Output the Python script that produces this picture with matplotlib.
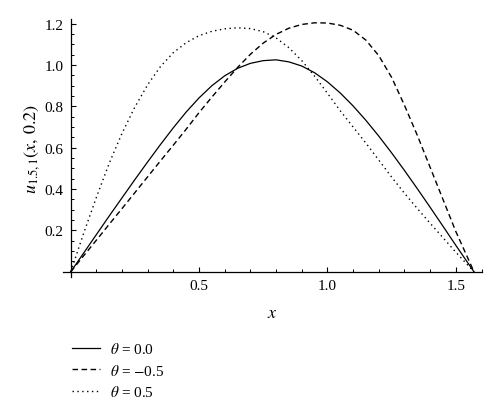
import numpy as np
import matplotlib.pyplot as plt
from matplotlib.ticker import MultipleLocator, FixedLocator

plt.rcParams['font.family'] = ['Liberation Serif', 'DejaVu Serif']
plt.rcParams['mathtext.fontset'] = 'stix'

# values (x runs from 0 to pi/2)
x = [0.0, 0.05, 0.1, 0.15, 0.2, 0.25, 0.3, 0.35, 0.4, 0.45, 0.5, 0.55, 0.6, 0.65,
     0.7, 0.75, 0.8, 0.85, 0.9, 0.95, 1.0, 1.05, 1.1, 1.15, 1.2, 1.25, 1.3, 1.35,
     1.4, 1.45, 1.5, np.pi / 2]
u_theta0 = [0.0, 0.09, 0.18, 0.27, 0.358, 0.446, 0.532, 0.616, 0.697, 0.773, 0.841,
            0.90, 0.948, 0.984, 1.008, 1.021, 1.025, 1.015, 0.995, 0.9625, 0.9185,
            0.8645, 0.802, 0.732, 0.656, 0.575, 0.49, 0.402, 0.312, 0.2205, 0.128, 0.0]
u_theta_m05 = [0.0, 0.077, 0.153, 0.23, 0.306, 0.383, 0.46, 0.537, 0.613, 0.69, 0.77,
               0.845, 0.918, 0.988, 1.052, 1.106, 1.148, 1.178, 1.196, 1.204, 1.203,
               1.192, 1.168, 1.12, 1.045, 0.94, 0.805, 0.66, 0.505, 0.35, 0.195, 0.0]
u_theta_p05 = [0.0, 0.185, 0.36, 0.525, 0.67, 0.797, 0.905, 0.993, 1.06, 1.108, 1.142,
               1.163, 1.175, 1.18, 1.176, 1.161, 1.131, 1.0835, 1.021, 0.946, 0.8635,
               0.7785, 0.70, 0.622, 0.54, 0.458, 0.38, 0.306, 0.235, 0.165, 0.095, 0.0]
labels = [r'$\theta$ = 0.0', r'$\theta$ = $-$0.5', r'$\theta$ = 0.5']

fig = plt.figure(figsize=(5, 4.14), dpi=100)
ax = fig.add_axes([0.126, 0.3285, 0.837, 0.623])

l1, = ax.plot(x, u_theta0, color='black', lw=0.9, linestyle='-')
l2, = ax.plot(x, u_theta_m05, color='black', lw=1.0, linestyle=(0, (4, 2.5)))
l3, = ax.plot(x, u_theta_p05, color='black', lw=1.0, linestyle=(0, (1, 2.5)))

ax.set_xlim(-0.03, 1.6)
ax.set_ylim(-0.025, 1.222)
ax.spines['left'].set_position(('data', 0))
ax.spines['bottom'].set_position(('data', 0))
ax.spines['top'].set_visible(False)
ax.spines['right'].set_visible(False)
for s in ['left', 'bottom']:
    ax.spines[s].set_linewidth(0.9)

ax.xaxis.set_major_locator(FixedLocator([0.5, 1.0, 1.5]))
ax.xaxis.set_minor_locator(MultipleLocator(0.1))
ax.yaxis.set_major_locator(FixedLocator([0.2, 0.4, 0.6, 0.8, 1.0, 1.2]))
ax.yaxis.set_minor_locator(MultipleLocator(0.05))
ax.xaxis.set_major_formatter(plt.FormatStrFormatter('%.1f'))
ax.yaxis.set_major_formatter(plt.FormatStrFormatter('%.1f'))
ax.tick_params(which='major', direction='in', length=3.5, width=0.8, labelsize=11, pad=5)
ax.tick_params(which='minor', direction='in', length=2, width=0.7)

ax.set_xlabel(r'$x$', fontsize=13, labelpad=9)
ax.set_ylabel(r'$u_{1.5,1}(x,\, 0.2)$', fontsize=13, labelpad=2)

fig.legend([l1, l2, l3], labels, loc='upper left', bbox_to_anchor=(0.144, 0.173),
           frameon=False, fontsize=11, handlelength=1.85, handletextpad=0.65,
           labelspacing=0.42, borderaxespad=0, borderpad=0)

fig.savefig('out.png', dpi=100)
